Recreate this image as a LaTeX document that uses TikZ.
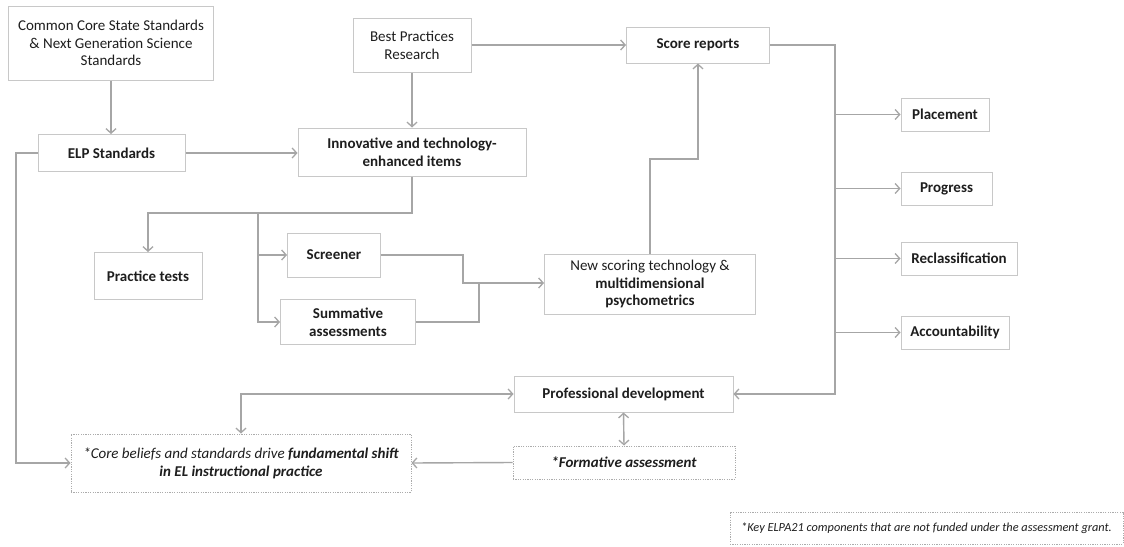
\documentclass[tikz,border=0pt]{standalone}
\usepackage{fontspec}
\setmainfont{Carlito}
\usetikzlibrary{arrows.meta}
\definecolor{boxline}{HTML}{C8C8C8}
\definecolor{conn}{HTML}{A6A6A6}
\definecolor{txt}{HTML}{1E1E1E}
\newcommand{\fs}{\fontsize{15}{17.8}\selectfont}
\begin{document}
\begin{tikzpicture}[x=1pt,y=-1pt,
  font=\fs,
  box/.style={draw=boxline, line width=1pt, fill=white, text=txt, align=center, inner sep=0pt},
  bbox/.style={box, font=\fs\bfseries},
  dotbox/.style={box, dash pattern=on 1.2pt off 1.2pt, draw=gray!65},
  line/.style={draw=conn, line width=1.4pt},
  arr/.style={line, -{Straight Barb[length=4.5pt,width=10pt,line width=1.3pt]}},
  darr/.style={line, {Straight Barb[length=4.5pt,width=10pt,line width=1.3pt]}-{Straight Barb[length=4.5pt,width=10pt,line width=1.3pt]}}
]
\path[use as bounding box, fill=white] (0,0) rectangle (1124,546);

% nodes
\node[box, minimum width=205pt, minimum height=74pt] (ccss) at (111,43) {Common Core State Standards\\\& Next Generation Science\\Standards};
\node[box, minimum width=118pt, minimum height=54pt] (best) at (412,45) {Best Practices\\Research};
\node[bbox, minimum width=143pt, minimum height=36pt] (score) at (698,45) {Score reports};
\node[bbox, minimum width=147pt, minimum height=37pt] (elp) at (111.5,153) {ELP Standards};
\node[bbox, minimum width=228pt, minimum height=48pt] (innov) at (412,152) {Innovative and technology-\\enhanced items};
\node[bbox, minimum width=108pt, minimum height=47pt] (practice) at (148,276) {Practice tests};
\node[bbox, minimum width=93pt, minimum height=44pt] (screener) at (334,255) {Screener};
\node[bbox, minimum width=135pt, minimum height=45pt] (summative) at (348,322) {Summative\\assessments};
\node[box, minimum width=211pt, minimum height=60pt] (newscore) at (650,284) {New scoring technology \&\\\textbf{multidimensional}\\\textbf{psychometrics}};
\node[bbox, minimum width=88pt, minimum height=33pt] (placement) at (945,114.5) {Placement};
\node[bbox, minimum width=91pt, minimum height=33pt] (progress) at (946.5,188.5) {Progress};
\node[bbox, minimum width=116pt, minimum height=33pt] (reclass) at (959,258.5) {Reclassification};
\node[bbox, minimum width=108pt, minimum height=33pt] (account) at (955,332.5) {Accountability};
\node[bbox, minimum width=219pt, minimum height=36pt] (profdev) at (623.5,394) {Professional development};
\node[dotbox, minimum width=222pt, minimum height=33pt, font=\fs\bfseries\itshape] (formative) at (624,462.5) {*Formative assessment};
\node[dotbox, minimum width=340pt, minimum height=58pt, font=\fs\itshape] (core) at (241,463) {*Core beliefs and standards drive \textbf{fundamental shift}\\\textbf{in EL instructional practice}};
\node[dotbox, minimum width=393pt, minimum height=32pt, font=\fontsize{12.3}{14}\selectfont\itshape] (foot) at (926.5,528) {*Key ELPA21 components that are not funded under the assessment grant.};

% junction coordinates
\coordinate (tr) at (835,45);
\coordinate (j1) at (412,213);
\coordinate (j2) at (258,213);
\coordinate (s1) at (463,283);
\coordinate (s2) at (479,283);
\coordinate (k) at (650,159);
\coordinate (l) at (16,153);

% connectors
\draw[arr] (ccss.south) -- (ccss.south |- elp.north);
\draw[arr] (best) -- (innov);
\draw[arr] (elp.east) -- (elp.east -| innov.west);
\draw[arr] (best.east) -- (score.west);
\draw[arr] (score.east) -- (tr) |- (profdev.east);
\draw[arr] (tr |- placement) -- (placement.west);
\draw[arr] (tr |- progress) -- (progress.west);
\draw[arr] (tr |- reclass) -- (reclass.west);
\draw[arr] (tr |- account) -- (account.west);
\draw[arr] (innov.south) -- (j1) -| (practice.north);
\draw[arr] (j2) |- (screener.west);
\draw[arr] (j2) |- (summative.west);
\draw[arr] (screener.east) -| (s1) -- (s1 -| newscore.west);
\draw[line] (summative.east) -| (s2);
\draw[arr] (newscore.north) -- (k) -| (score.south);
\draw[arr] (elp.west) -- (l) |- (core.west);
\draw[darr] (core.north) |- (profdev.west);
\draw[arr] (formative.west) -- (core.east);
\draw[darr] (profdev.south) -- (formative.north);
\end{tikzpicture}
\end{document}
